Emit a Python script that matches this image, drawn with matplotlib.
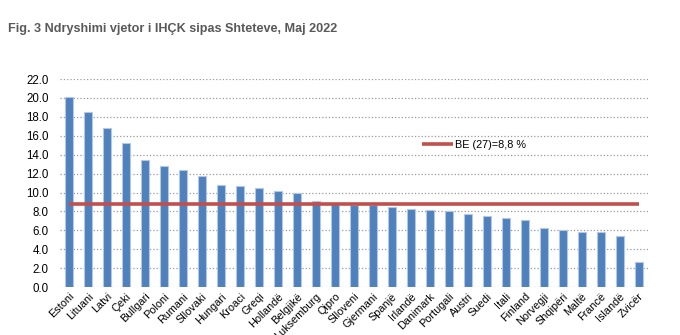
import numpy as np
import matplotlib
matplotlib.use("Agg")
import matplotlib.pyplot as plt

# ndryshimi vjetor i IHCK, maj 2022
shtetet = ["Estoni", "Lituani", "Latvi", "Çeki", "Bullgari", "Poloni", "Rumani",
           "Sllovaki", "Hungari", "Kroaci", "Greqi", "Hollandë", "Belgjikë",
           "Luksemburg", "Qipro", "Slloveni", "Gjermani", "Spanjë", "Irlandë",
           "Danimark", "Portugali", "Austri", "Suedi", "Itali", "Finland",
           "Norvegji", "Shqipëri", "Maltë", "Francë", "Islandë", "Zvicër"]
vlerat = [20.1, 18.5, 16.8, 15.2, 13.4, 12.8, 12.4, 11.8, 10.8, 10.7, 10.5, 10.2,
          9.9, 9.1, 8.8, 8.7, 8.7, 8.5, 8.3, 8.2, 8.1, 7.7, 7.5, 7.3, 7.1,
          6.2, 6.0, 5.8, 5.8, 5.4, 2.7]
be_mesatarja = 8.8
be_etiketa = "BE (27)=8,8 %"
y_ticks = np.arange(0, 22.1, 2)

plt.rcParams['font.family'] = ['Liberation Sans', 'DejaVu Sans']

fig = plt.figure(figsize=(6.8, 3.35), dpi=100)
ax = fig.add_axes([0.088, 0.143, 0.865, 0.621])

x = np.arange(len(shtetet))
ax.bar(x, vlerat, width=0.42, color='#4f81bd', edgecolor='#b4c8e3',
       linewidth=0.8, zorder=2)
ax.hlines(be_mesatarja, x[0], x[-1], color='#c0504d', linewidth=2.6,
          zorder=3, label=be_etiketa)

ax.set_xlim(-0.5, len(shtetet) - 0.5)
ax.set_ylim(0, 22)
ax.set_yticks(y_ticks)
ax.set_yticklabels(["%.1f" % v for v in y_ticks], fontsize=8.3)
ax.set_xticks(x)
ax.set_xticklabels(shtetet, rotation=45, ha='right', rotation_mode='anchor',
                   fontsize=7.8)
ax.tick_params(length=0, pad=3)
ax.tick_params(axis='y', pad=8)
ax.yaxis.grid(True, linestyle=':', color='#9a9a9a', linewidth=0.9, zorder=0)
ax.set_axisbelow(True)
for s in ax.spines.values():
    s.set_visible(False)

ax.legend(loc='center left', bbox_to_anchor=(0.607, 0.683), frameon=False,
          fontsize=7.8, handlelength=2.8, handletextpad=0.2, borderpad=0)

fig.text(0.012, 0.912, "Fig. 3 Ndryshimi vjetor i IHÇK sipas Shteteve, Maj 2022",
         fontsize=9.1, fontweight='bold', color='#595959', va='center')

fig.savefig("out.png", dpi=100)
